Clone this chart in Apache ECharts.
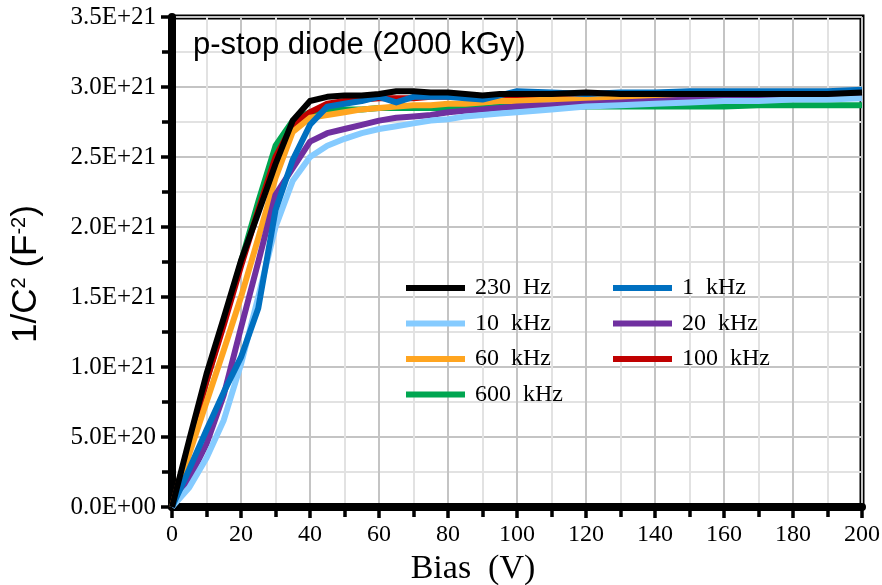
<!DOCTYPE html>
<html>
<head>
<meta charset="utf-8">
<script src="https://cdn.jsdelivr.net/npm/echarts@6/dist/echarts.min.js"></script>
<style>html,body{margin:0;padding:0;background:#fff;}#c{width:882px;height:585px;}</style>
</head>
<body>
<div id="c"></div>
<script>
// Bias voltage (V)
const bias = [0,5,10,15,20,25,30,35,40,45,50,55,60,65,70,75,80,85,90,95,100,110,120,130,140,150,160,170,180,190,200];
// 1/C^2 values in units of 1E+21 F^-2
const hz230  = [0,0.48,0.95,1.35,1.76,2.10,2.45,2.76,2.90,2.93,2.94,2.94,2.95,2.97,2.97,2.96,2.96,2.95,2.94,2.95,2.95,2.95,2.96,2.95,2.95,2.95,2.95,2.95,2.95,2.95,2.96];
const khz1   = [0,0.27,0.55,0.82,1.07,1.42,2.12,2.48,2.73,2.86,2.88,2.90,2.93,2.89,2.93,2.93,2.93,2.92,2.91,2.94,2.97,2.96,2.95,2.96,2.96,2.97,2.97,2.97,2.97,2.97,2.98];
const khz10  = [0,0.14,0.35,0.62,1.02,1.50,2.00,2.33,2.50,2.58,2.63,2.67,2.70,2.72,2.74,2.76,2.77,2.79,2.80,2.81,2.82,2.84,2.86,2.87,2.88,2.89,2.90,2.90,2.91,2.91,2.92];
const khz20  = [0,0.20,0.45,0.80,1.28,1.75,2.23,2.42,2.61,2.67,2.70,2.73,2.76,2.78,2.79,2.80,2.82,2.83,2.84,2.85,2.86,2.87,2.88,2.89,2.90,2.91,2.91,2.92,2.92,2.92,2.93];
const khz60  = [0,0.38,0.75,1.12,1.50,1.92,2.35,2.68,2.78,2.80,2.82,2.84,2.85,2.86,2.87,2.87,2.88,2.88,2.89,2.90,2.90,2.91,2.91,2.92,2.92,2.93,2.93,2.93,2.94,2.94,2.94];
const khz100 = [0,0.45,0.90,1.30,1.72,2.12,2.50,2.73,2.82,2.88,2.90,2.91,2.92,2.92,2.92,2.93,2.93,2.93,2.93,2.94,2.94,2.94,2.94,2.94,2.94,2.95,2.95,2.95,2.95,2.95,2.95];
const khz600 = [0,0.45,0.90,1.32,1.75,2.18,2.58,2.76,2.82,2.83,2.84,2.84,2.85,2.85,2.85,2.85,2.85,2.85,2.85,2.86,2.86,2.86,2.86,2.86,2.86,2.86,2.86,2.87,2.87,2.87,2.87];
const yTicks = [0,0.5,1.0,1.5,2.0,2.5,3.0,3.5];
const xTicks = [0,20,40,60,80,100,120,140,160,180,200];

const names = ['230  Hz','1  kHz','10  kHz','20  kHz','60  kHz','100  kHz','600  kHz'];
const colors = {'230  Hz':'#000000','1  kHz':'#0070C0','10  kHz':'#85CBFF','20  kHz':'#7030A0','60  kHz':'#FFA520','100  kHz':'#C00000','600  kHz':'#00A651'};
const values = {'230  Hz':hz230,'1  kHz':khz1,'10  kHz':khz10,'20  kHz':khz20,'60  kHz':khz60,'100  kHz':khz100,'600  kHz':khz600};
const drawOrder = ['600  kHz','100  kHz','60  kHz','20  kHz','10  kHz','1  kHz','230  Hz'];

function fmtE(v){
  const x = v*1e21;
  if (x === 0) return '0.0E+00';
  const s = x.toExponential(1).split('e');
  const sign = s[1][0];
  let e = s[1].slice(1);
  if (e.length < 2) e = '0'+e;
  return s[0]+'E'+sign+e;
}

const chart = echarts.init(document.getElementById('c'), null, {renderer:'canvas'});
const serif = 'Liberation Serif';
const sans = 'Liberation Sans';

const legendBase = {
  orient:'vertical', icon:'rect', itemWidth:59, itemHeight:6, itemGap:11.5,
  textStyle:{fontFamily:serif, fontSize:24, color:'#000', lineHeight:24, padding:[0,0,0,5]},
  selectedMode:false, padding:0
};

chart.setOption({
  animation:false,
  backgroundColor:'#fff',
  title:{text:'p-stop diode (2000 kGy)', left:193, top:30, padding:0,
    textStyle:{fontFamily:sans, fontSize:31, fontWeight:'normal', color:'#000'}},
  legend:[
    Object.assign({}, legendBase, {left:406, top:276, data:[names[0],names[2],names[4],names[6]]}),
    Object.assign({}, legendBase, {left:613, top:276, data:[names[1],names[3],names[5]]})
  ],
  grid:{left:172, right:20, top:17, bottom:78, show:true, borderColor:'#000', borderWidth:5,
    backgroundColor:'transparent', outerBoundsMode:'none', containLabel:false},
  xAxis:{
    type:'value', min:0, max:200, interval:20,
    name:'Bias  (V)', nameLocation:'middle', nameGap:39,
    nameTextStyle:{fontFamily:serif, fontSize:34, color:'#000', padding:[0,88,0,0]},
    axisLine:{show:true, onZero:false, lineStyle:{color:'#000', width:8}},
    axisTick:{show:true, length:11, lineStyle:{color:'#000', width:3.5}},
    minorTick:{show:true, splitNumber:2, length:10, lineStyle:{color:'#000', width:3.5}},
    axisLabel:{fontFamily:serif, fontSize:24, color:'#000', margin:16,
      formatter:(v)=> xTicks.indexOf(v)>=0 ? String(v) : ''},
    splitLine:{show:true, lineStyle:{color:'#c4c4c4', width:2}},
    minorSplitLine:{show:true, lineStyle:{color:'#e2e2e2', width:2}}
  },
  yAxis:{
    type:'value', min:0, max:3.5, interval:0.5,
    name:'{a|1/C}{s|2}{a| (F}{s|-2}{a|)}', nameLocation:'middle', nameGap:128, nameRotate:90,
    nameTextStyle:{fontFamily:sans, fontSize:35, color:'#000', padding:[0,24,0,0],
      rich:{a:{fontFamily:sans, fontSize:35, color:'#000'}, s:{fontFamily:sans, fontSize:20, color:'#000', verticalAlign:'top'}}},
    axisLine:{show:true, onZero:false, lineStyle:{color:'#000', width:8}},
    axisTick:{show:true, length:11, lineStyle:{color:'#000', width:3.5}},
    minorTick:{show:true, splitNumber:2, length:10, lineStyle:{color:'#000', width:3.5}},
    axisLabel:{fontFamily:serif, fontSize:25, color:'#000', margin:16,
      formatter:(v)=> yTicks.some(t=>Math.abs(t-v)<1e-9) ? fmtE(v) : ''},
    splitLine:{show:true, lineStyle:{color:'#c4c4c4', width:2}},
    minorSplitLine:{show:true, lineStyle:{color:'#e2e2e2', width:2}}
  },
  series: drawOrder.map(n => ({
    name:n, type:'line', showSymbol:false, symbol:'none', smooth:false,
    color:colors[n],
    lineStyle:{color:colors[n], width:6, join:'round'},
    data: bias.map((b,i)=>[b, values[n][i]])
  }))
});
</script>
</body>
</html>
